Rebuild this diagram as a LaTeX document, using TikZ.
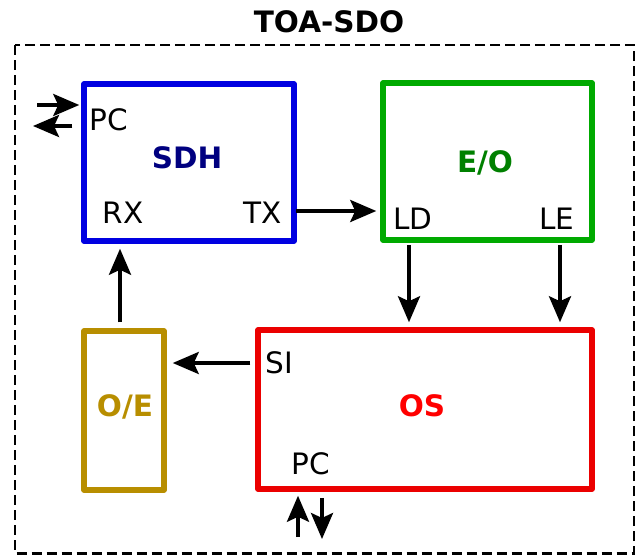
\documentclass[tikz,border=0pt]{standalone}
\usepackage{fontspec}
\setmainfont{DejaVu Sans}
\usetikzlibrary{arrows.meta}
\definecolor{sdhblue}{RGB}{0,0,225}
\definecolor{sdhtext}{RGB}{0,0,128}
\definecolor{eogreen}{RGB}{0,170,0}
\definecolor{eotext}{RGB}{0,128,0}
\definecolor{osred}{RGB}{235,0,0}
\definecolor{ostext}{RGB}{255,0,0}
\definecolor{oegold}{RGB}{184,142,0}
\tikzset{
  blk/.style={draw, line width=5.5pt, line join=round, rectangle, inner sep=0pt},
  lbl/.style={inner sep=0pt, anchor=base, font=\fontsize{29.5}{34}\selectfont},
  blbl/.style={lbl, font=\fontsize{29.5}{34}\selectfont\bfseries},
  arr/.style={line width=3.8pt, -{Stealth[length=26pt,width=22pt,inset=5pt]}},
}
\begin{document}
\begin{tikzpicture}[x=1pt,y=-1pt]
\useasboundingbox (0,0) rectangle (640,555);
% frame
\draw[line width=2.7pt, dash pattern=on 10pt off 5pt] (15,45) rectangle (634,553.5);
\node[blbl] (title) at (329,32) {TOA-SDO};
% blocks
\node[blk, draw=sdhblue, minimum width=210pt, minimum height=157pt] (sdh) at (189,162.5) {};
\node[blk, draw=eogreen, minimum width=209pt, minimum height=157pt] (eo) at (487.5,161.5) {};
\node[blk, draw=osred, minimum width=334pt, minimum height=159pt] (os) at (425,409.5) {};
\node[blk, draw=oegold, minimum width=80pt, minimum height=159pt] (oe) at (124,410.5) {};
% labels
\node[blbl, text=sdhtext] (sdhl) at (187,168) {SDH};
\node[lbl] (pc1) at (109,130) {PC};
\node[lbl] (rx) at (123,223) {RX};
\node[lbl] (tx) at (263,223) {TX};
\node[blbl, text=eotext] (eol) at (485,172) {E/O};
\node[lbl] (ld) at (413,229) {LD};
\node[lbl] (le) at (557,229) {LE};
\node[lbl] (si) at (279,373) {SI};
\node[blbl, text=ostext] (osl) at (422,416) {OS};
\node[lbl] (pc2) at (311,474) {PC};
\node[blbl, text=oegold] (oel) at (125,416) {O/E};
% free ends
\coordinate (pcin) at (37,105);
\coordinate (pcout) at (33,126);
\coordinate (pcup) at (298,537);
\coordinate (pcdown) at (322,539);
% connectors
\draw[arr, shorten <=-0.5pt, shorten >=4pt] (sdh.east |- 0,211) -- (eo.west |- 0,211);
\draw[arr, shorten <=2pt, shorten >=5pt] (eo.south -| 409,0) -- (os.north -| 409,0);
\draw[arr, shorten <=2pt, shorten >=5pt] (eo.south -| 560,0) -- (os.north -| 560,0);
\draw[arr, shorten <=5pt, shorten >=6pt] (os.west |- 0,363) -- (oe.east |- 0,363);
\draw[arr, shorten <=6pt, shorten >=5pt] (oe.north -| 120,0) -- (sdh.south -| 120,0);
\draw[arr, shorten >=2pt] (pcin) -- (sdh.west |- pcin);
\draw[arr] (sdh.west |- 0,126) ++(-9pt,0) coordinate (pcoutstart) (pcoutstart) -- (pcout);
\draw[arr, shorten >=4pt] (pcup) -- (os.south -| pcup);
\draw[arr, shorten <=6pt] (os.south -| pcdown) -- (pcdown);
\end{tikzpicture}
\end{document}
